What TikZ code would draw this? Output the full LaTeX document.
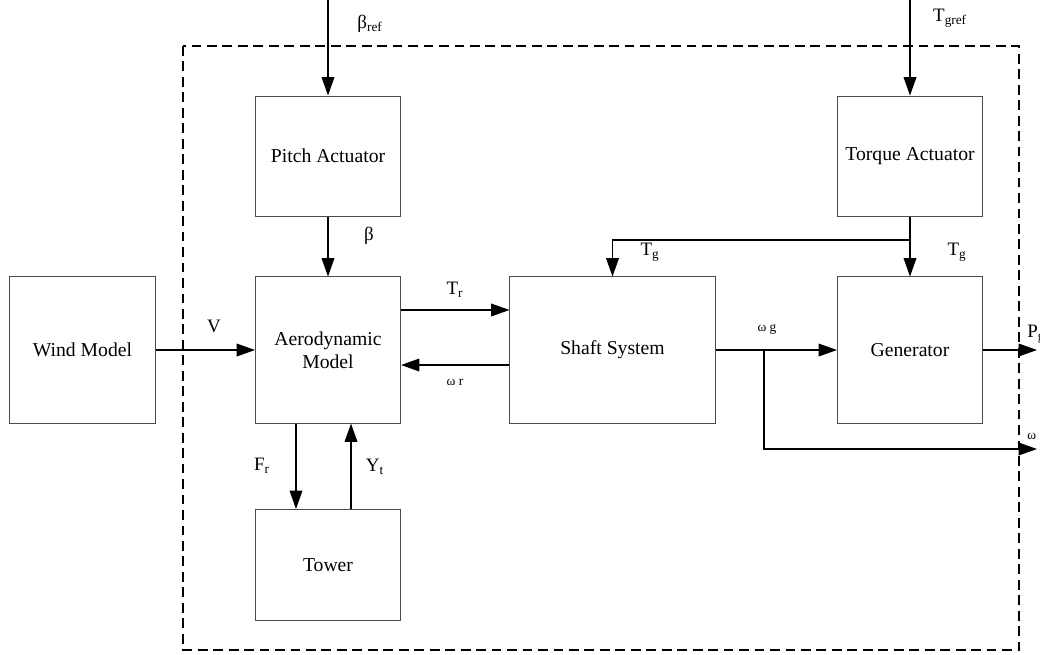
\documentclass[tikz,border=0pt]{standalone}
\usepackage{fontspec}
\setmainfont{Liberation Serif}
\usetikzlibrary{arrows.meta,positioning}
\begin{document}
\begin{tikzpicture}[x=0.025cm,y=-0.025cm,>={Triangle[length=13pt,width=9pt]},
    block/.style={rectangle,draw=black!70,line width=0.7pt,minimum width=3.625cm,minimum height=3.65cm,align=center,font=\fontsize{14}{16.5}\selectfont},
    sig/.style={->,line width=0.9pt},
    lbl/.style={font=\fontsize{13.5}{15}\selectfont},
    small/.style={font=\fontsize{9.5}{11}\selectfont}]
    \clip (0,0) rectangle (1040,654);
    % frame
    \draw[dashed,dash pattern=on 7pt off 4pt,line width=0.8pt] (183,46) rectangle (1019,650);
    % blocks
    \node[block] (wind) at (82.5,350) {Wind Model};
    \node[block,minimum height=3cm] (pitch) at (328,156) {Pitch Actuator};
    \node[block] (aero) at (328,350) {Aerodynamic\\Model};
    \node[block,minimum height=2.775cm] (tower) at (328,565) {Tower};
    \node[block,minimum width=5.125cm] (shaft) at (612.5,350) {Shaft System};
    \node[block,minimum height=3cm] (torque) at (910,156) {Torque Actuator};
    \node[block] (gen) at (910,350) {Generator};
    % free ends
    \coordinate (bref) at (328,-5);
    \coordinate (tgref) at (910,-5);
    \coordinate (tgsplit) at (910,240);
    \coordinate (branch) at (764,350);
    \coordinate (pout) at (1037,350);
    \coordinate (wout) at (1037,449);
    % arrows
    \draw[sig] (bref) -- (pitch.north);
    \draw[sig] (tgref) -- (torque.north);
    \draw[sig] (pitch.south) -- (aero.north);
    \draw[sig] (wind.east) -- (aero.west);
    \draw[sig] ([yshift=1cm]aero.east) -- ([yshift=1cm]shaft.west);
    \draw[sig] ([yshift=-0.375cm]shaft.west) -- ([yshift=-0.375cm]aero.east);
    \draw[sig] ([xshift=-0.8cm]aero.south) -- ([xshift=-0.8cm]tower.north);
    \draw[sig] ([xshift=0.575cm]tower.north) -- ([xshift=0.575cm]aero.south);
    \draw[line width=0.9pt] (torque.south) -- (tgsplit);
    \draw[sig] (tgsplit) -- (gen.north);
    \draw[sig] (tgsplit) -| (shaft.north);
    \draw[sig] (shaft.east) -- (gen.west);
    \draw[sig] (gen.east) -- (pout);
    \draw[sig] (branch) |- (wout);
    % labels
    \node[lbl] (lbref) at (370,24) {β\textsubscript{ref}};
    \node[lbl] (ltgref) at (950,18) {T\textsubscript{gref}};
    \node[lbl] (lbeta) at (369,236) {β};
    \node[lbl] (lv) at (214,326) {V};
    \node[lbl] (ltr) at (455,290) {T\textsubscript{r}};
    \node[small] (lwr) at (455,382) {ω r};
    \node[lbl] (ltg) at (650,252) {T\textsubscript{g}};
    \node[lbl] (ltg2) at (957,252) {T\textsubscript{g}};
    \node[small] (lwg) at (767,330) {ω g};
    \node[lbl,anchor=west,inner sep=0pt] (lpg) at (1027,334) {P\textsubscript{g}};
    \node[small,anchor=west,inner sep=0pt] (lw) at (1027,436) {ω};
    \node[lbl] (lfr) at (262,466) {F\textsubscript{r}};
    \node[lbl] (lyt) at (375,467) {Y\textsubscript{t}};
\end{tikzpicture}
\end{document}
